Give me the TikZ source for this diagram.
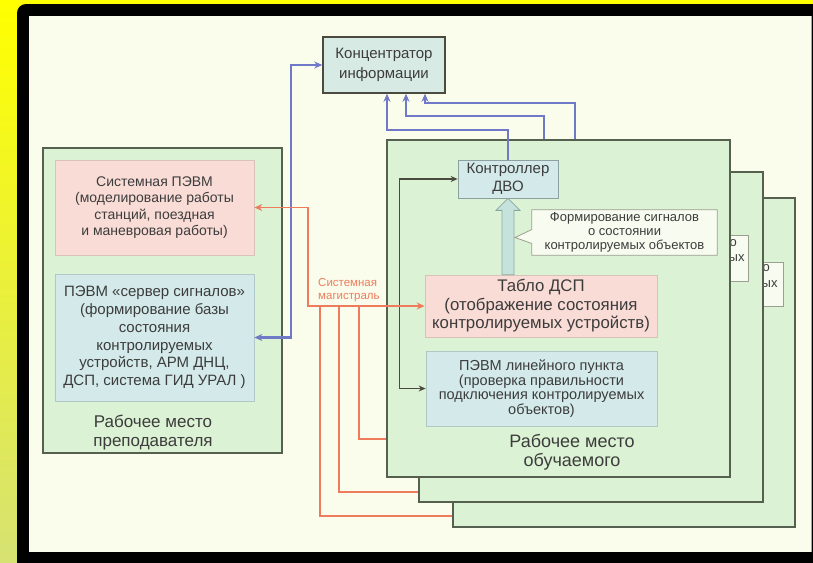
\documentclass[tikz,border=0pt]{standalone}
\usepackage{fontspec}
\setmainfont{Liberation Sans}
\usetikzlibrary{arrows.meta,calc}
\definecolor{ybg}{HTML}{FFFF00}
\definecolor{ybot}{HTML}{D6E272}
\definecolor{cream}{HTML}{FBFDEC}
\definecolor{grfill}{HTML}{DCF2D4}
\definecolor{grline}{HTML}{56604F}
\definecolor{pkfill}{HTML}{F9DCD6}
\definecolor{pkline}{HTML}{D9C2BA}
\definecolor{blfill}{HTML}{D4EAEA}
\definecolor{blline}{HTML}{B0C8C8}
\definecolor{cnfill}{HTML}{D8EAE4}
\definecolor{clfill}{HTML}{F8FBF0}
\definecolor{clline}{HTML}{9AA090}
\definecolor{bline}{HTML}{7078C8}
\definecolor{rline}{HTML}{EE7C5C}
\definecolor{dline}{HTML}{4A4A40}
\definecolor{txt}{HTML}{3C3C3C}
\definecolor{fatfill}{HTML}{C5E3DC}
\definecolor{fatline}{HTML}{8AA8A0}
\begin{document}
\begin{tikzpicture}[x=1pt,y=-1pt,
  every node/.style={text=txt, align=center, inner sep=0pt},
  grp/.style={draw=grline, fill=grfill, line width=1.4pt},
  pinkbox/.style={draw=pkline, fill=pkfill, line width=0.7pt},
  bluebox/.style={draw=blline, fill=blfill, line width=0.7pt},
  concst/.style={draw=dline, fill=cnfill, line width=1.5pt},
  callst/.style={draw=clline, fill=clfill, line width=0.8pt},
  bl/.style={draw=bline, line width=2.2pt, arrows={-Stealth[length=8pt,width=7pt]}},
  rd/.style={draw=rline, line width=1.8pt},
  dk/.style={draw=dline, line width=1.4pt},
  tipd/.style={arrows={Stealth[length=7pt,width=6pt]-Stealth[length=7pt,width=6pt]}}
]
\useasboundingbox (0,0) rectangle (813,562);
% frame
\shade[top color=ybg, bottom color=ybot] (0,0) rectangle (813,562);
\begin{scope}
\clip (0,0) rectangle (813,562);
\fill[black, rounded corners=9pt] (17,590) -- (17,4) -- (840,4) -- (840,590) -- cycle;
\end{scope}
\fill[cream] (29,16) rectangle (811,552);
\draw[gray!70, line width=0.8pt] (811.5,16) -- (811.5,552);

% teacher workplace
\node[grp, minimum width=239pt, minimum height=305pt] (teacher) at (162.5,300.5) {};
\node[pinkbox, minimum width=199pt, minimum height=95pt, font=\fontsize{14}{16.5}\selectfont] (syspc) at (154.5,207.5)
  {Системная ПЭВМ\\(моделирование работы\\станций, поездная\\и маневровая работы)};
\node[bluebox, minimum width=199pt, minimum height=127pt, font=\fontsize{15}{17.8}\selectfont] (server) at (154.5,337.5)
  {ПЭВМ «сервер сигналов»\\(формирование базы\\состояния\\контролируемых\\устройств, АРМ ДНЦ,\\ДСП, система ГИД УРАЛ )};
\node[font=\fontsize{17}{19}\selectfont] (tlab) at (153,433) {Рабочее место\\преподавателя};

% concentrator
\node[concst, minimum width=122pt, minimum height=56pt, font=\fontsize{15}{20}\selectfont] (conc) at (384,65)
  {Концентратор\\информации};

% stacked student workplaces
\node[grp, minimum width=342pt, minimum height=329pt] (ws3) at (624,362.5) {};
\node[callst, minimum width=43pt, minimum height=44pt] (call3) at (761.5,284) {};
\node[font=\fontsize{13}{14}\selectfont, anchor=west] (c3a) at (762.5,268) {о};
\node[font=\fontsize{13}{14}\selectfont, anchor=west] (c3b) at (761.5,284) {ых};
\node[grp, minimum width=344pt, minimum height=330pt] (ws2) at (591,337) {};
\node[callst, minimum width=48pt, minimum height=46pt] (call2) at (724,258) {};
\node[font=\fontsize{13}{14}\selectfont, anchor=west] (c2a) at (729.5,243) {о};
\node[font=\fontsize{13}{14}\selectfont, anchor=west] (c2b) at (728.5,258) {ых};
\node[grp, minimum width=343pt, minimum height=337pt] (ws1) at (558.5,308.5) {};

% contents of front workplace
\node[bluebox, draw=blline!80!black, minimum width=100pt, minimum height=38pt, font=\fontsize{15}{18}\selectfont] (ctrl) at (508,179)
  {Контроллер\\ДВО};
\node[pinkbox, minimum width=232pt, minimum height=62pt, font=\fontsize{16.8}{18.5}\selectfont] (tablo) at (541,306)
  {Табло ДСП\\(отображение состояния\\контролируемых устройств)};
\node[bluebox, minimum width=231pt, minimum height=75pt, font=\fontsize{14.5}{14.5}\selectfont] (lpc) at (541.5,388.5)
  {ПЭВМ линейного пункта\\(проверка правильности\\подключения контролируемых\\объектов)};
\node[font=\fontsize{18}{19}\selectfont] (wlab) at (572,452) {Рабочее место\\обучаемого};

% fat hollow arrow Табло -> Контроллер
\draw[fill=fatfill, draw=fatline, line width=0.8pt] (ctrl.south) -- ++(12,12) -- ++(-6,0)
  -- ($(ctrl.south |- tablo.north)+(6,0)$) -- ++(-12,0) -- ($(ctrl.south)+(-6,12)$) -- ++(-6,0) -- cycle;

% callout with tail
\node[minimum width=185pt, minimum height=45pt] (call1) at (624.5,232.5) {};
\coordinate (tailtip) at ($(ctrl.south |- call1.west)+(7,5)$);
\draw[callst] (call1.north west) -- (call1.north east) -- (call1.south east) -- (call1.south west)
  -- ($(call1.west)+(0,11)$) -- (tailtip) -- ($(call1.west)+(0,-3)$) -- cycle;
\node[font=\fontsize{13}{14}\selectfont] (calltext) at (call1.center) {Формирование сигналов\\о состоянии\\контролируемых объектов};

% blue connectors
\draw[bl, arrows={Stealth[length=8pt,width=7pt]-Stealth[length=8pt,width=7pt]}]
  (server.east) -| ([xshift=-31pt]conc.west) -- (conc.west);
\draw[bl] (ctrl.north) -- ++(0,-30) -| ([xshift=3pt]conc.south);
\coordinate (b2) at ($(ws1.north west)+(158,0)$);
\coordinate (b3) at ($(ws1.north west)+(189,0)$);
\draw[bl] (b2) -- ++(0,-23) -| ([xshift=22pt]conc.south);
\draw[bl] (b3) -- ++(0,-36) -| ([xshift=41pt]conc.south);

% dark connectors
\draw[dk, tipd] (ctrl.west) -- ++(-58,0) |- (lpc.west);

% red system bus
\coordinate (rj) at ([xshift=-117pt]tablo.west);
\draw[rd, arrows={Stealth[length=8pt,width=7pt]-Stealth[length=8pt,width=7pt]}]
  (syspc.east) -| (rj) -- (tablo.west);
\draw[rd] ($(rj)+(12,0)$) |- ($(ws3.south west)+(0,-12)$);
\draw[rd] ($(rj)+(31,0)$) |- ($(ws2.south west)+(0,-11)$);
\draw[rd] ($(rj)+(51,0)$) |- ($(ws1.south west)+(0,-39)$);
\node[text=rline, align=left, anchor=west, font=\fontsize{11.5}{13}\selectfont] (mag) at (318,290) {Системная\\магистраль};
\end{tikzpicture}
\end{document}
